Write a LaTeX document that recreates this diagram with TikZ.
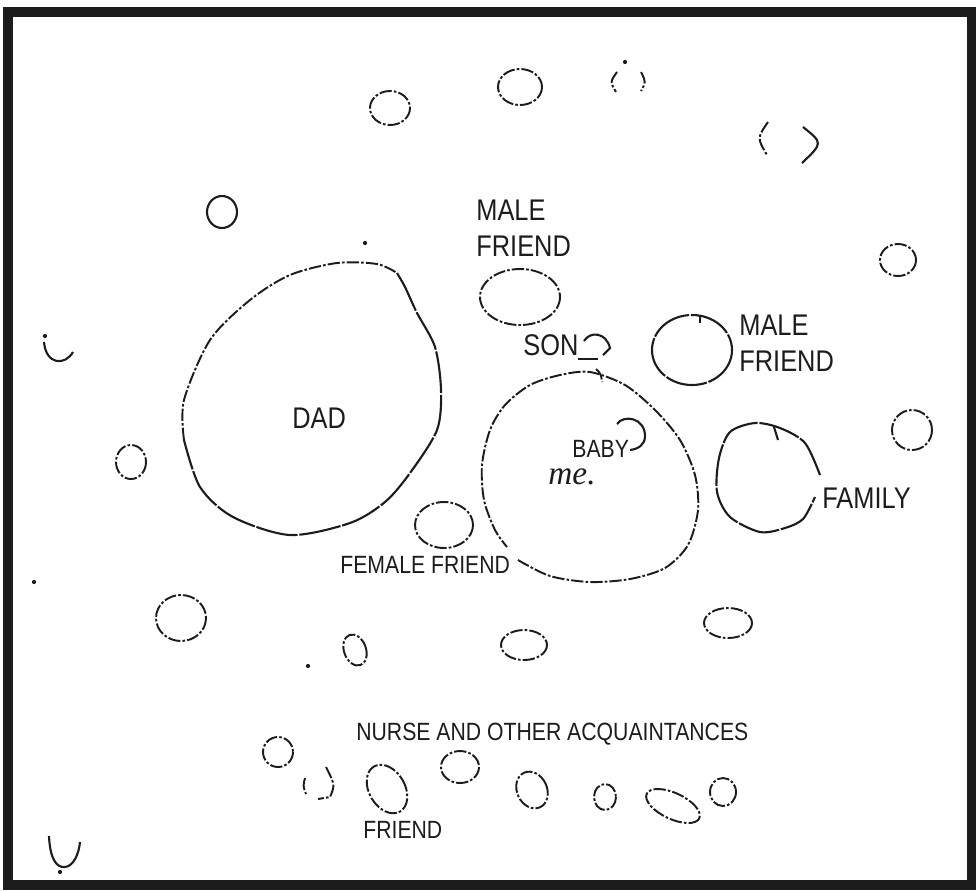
\documentclass[tikz,border=0pt]{standalone}
\usepackage{fontspec}
\setmainfont{Liberation Sans}[FakeStretch=0.85]
\newfontfamily\handfont{Liberation Serif}
\usepackage{xcolor}
\definecolor{ink}{HTML}{1C1C1C}
\tikzset{
  frame/.style={draw=ink,line width=5.5pt},
  ring/.style={draw=ink,line width=1.1pt,dash pattern=on 7pt off 1.2pt on 1.5pt off 1.2pt},
  firm/.style={draw=ink,line width=1.2pt,dash pattern=on 24pt off 1pt},
  stroke/.style={draw=ink,line width=1.2pt},
  big/.style={font=\fontsize{17}{20.5}\selectfont,text=ink,inner sep=0pt,align=left},
  small/.style={font=\fontsize{14.2}{17}\selectfont,text=ink,inner sep=0pt},
  hand/.style={font=\handfont\itshape\fontsize{19}{21}\selectfont,text=ink,inner sep=0pt},
  speck/.style={fill=ink,circle,inner sep=0pt,minimum size=2.4pt},
}

\begin{document}
\begin{tikzpicture}[x=0.02cm,y=-0.02cm]
\useasboundingbox (0,0) rectangle (976,890);
\draw[frame] (8,12) rectangle (972,885);

% dad
\draw[firm] plot[smooth] coordinates {(397,273) (405,287) (417,313) (435,347) (441,390) (437,430) (410,473) (385,502) (350,523) (290,535) (233,517) (200,487) (184,440)};
\draw[ring] plot[smooth] coordinates {(184,440) (184,400) (210,340) (250,300) (290,275) (337,263) (377,264) (397,273)};
\node[big,anchor=base west] (dad) at (292,428) {DAD};

% me / baby
\draw[ring] plot[smooth] coordinates {(518,560) (550,576) (590,582) (630,579) (665,568) (688,545) (698,510) (695,475) (680,440) (655,410) (625,385) (590,372) (560,375) (530,385) (505,405) (490,430) (482,465) (484,500) (495,530) (507,547)};
\node[small,anchor=base west] (baby) at (572,457) {BABY};
\draw[stroke] (617,424) .. controls (624,414) and (645,418) .. (645,436) .. controls (645,445) and (638,449) .. (630,450);
\node[hand,anchor=base west] (me) at (548,484) {me.};

% son
\node[big,anchor=base west] (son) at (523,355) {SON};
\draw[stroke] (584,341) .. controls (590,331) and (606,332) .. (610,348) -- (603,355);
\draw[stroke] (578,359) -- (598,359);
\draw[ring] (596,369) .. controls (601,374) .. (602,382);

% friends and family
\draw[ring] (520,297) ellipse (40 and 28);
\node[big,anchor=north west] (mf1) at (476,200) {MALE\\FRIEND};
\draw[firm] (692,350) ellipse (40 and 35);
\draw[stroke] (700,315) -- (700,323);
\node[big,anchor=north west] (mf2) at (739,315) {MALE\\FRIEND};
\draw[firm] plot[smooth] coordinates {(820,475) (805,443) (780,428) (755,423) (730,432) (719,458) (717,492) (730,517) (760,532) (785,528) (803,519) (815,497)};
\draw[stroke] (774,427) -- (778,440);
\node[big,anchor=base west] (family) at (822,508) {FAMILY};
\draw[ring] (444,525) ellipse (29 and 23);
\node[small,anchor=base west] (ff) at (340,573) {FEMALE FRIEND};

% scattered acquaintances
\draw[ring] (390,108) ellipse (20 and 17);
\draw[ring] (520,87) ellipse (22 and 18);
\draw[ring] (617,72) .. controls (610,82) .. (616,92);
\draw[ring] (641,72) .. controls (646,82) .. (641,91);
\draw[ring] (768,122) .. controls (757,138) .. (767,155);
\draw[stroke] (803,127) .. controls (823,143) .. (802,163);
\draw[stroke] (222,212) ellipse (15 and 16);
\draw[ring] (898,260) ellipse (18 and 16);
\draw[stroke] (44,342) .. controls (46,365) and (65,366) .. (73,352);
\draw[ring] (131,462) ellipse (15 and 17);
\draw[ring] (912,430) ellipse (20 and 20);
\draw[ring] (181,618) ellipse (25 and 23);
\draw[ring,rotate around={20:(355,650)}] (355,650) ellipse (11 and 16);
\draw[ring] (524,645) ellipse (23 and 15);
\draw[ring] (728,623) ellipse (24 and 15);

% nurse and other acquaintances
\node[small,anchor=base west] (nurse) at (356,740) {NURSE AND OTHER ACQUAINTANCES};
\draw[ring] (278,752) ellipse (15 and 15);
\draw[ring] (305,778) .. controls (303,786) .. (306,794);
\draw[ring] (326,767) .. controls (335,785) .. (330,797) -- (318,799);
\draw[ring,rotate around={30:(387,789)}] (387,789) ellipse (18 and 26);
\node[small,anchor=base west] (friend) at (363,838) {FRIEND};
\draw[ring] (460,767) ellipse (19 and 16);
\draw[ring,rotate around={25:(532,790)}] (532,790) ellipse (15 and 19);
\draw[ring] (605,797) ellipse (11 and 13);
\draw[ring,rotate around={-25:(673,806)}] (673,806) ellipse (29 and 13);
\draw[ring] (723,792) ellipse (13 and 14);
\draw[stroke] (49,836) .. controls (50,858) and (56,868) .. (65,867) .. controls (74,866) and (79,853) .. (80,842);

% specks
\node[speck] (d1) at (625,62) {};
\node[speck] (d2) at (365,243) {};
\node[speck] (d3) at (34,582) {};
\node[speck] (d4) at (308,666) {};
\node[speck] (d5) at (45,336) {};
\node[speck] (d6) at (60,872) {};

\end{tikzpicture}
\end{document}
